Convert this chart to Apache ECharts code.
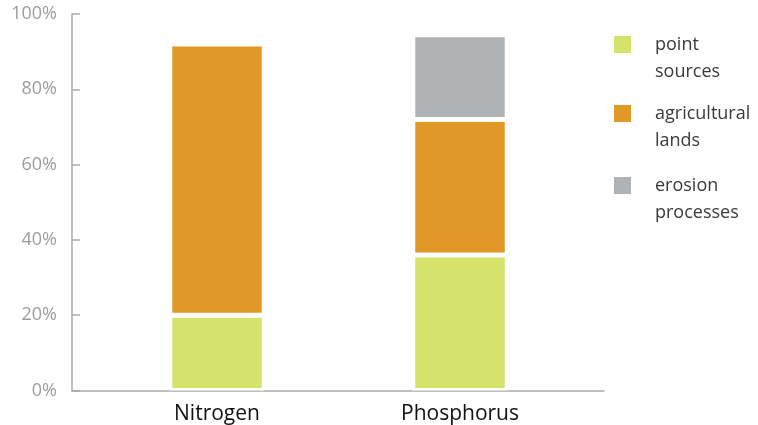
<!DOCTYPE html>
<html>
<head>
<meta charset="utf-8">
<script src="https://cdn.jsdelivr.net/npm/echarts@6/dist/echarts.min.js"></script>
<style>
  html, body { margin: 0; padding: 0; background: #fff; }
  #chart { width: 758px; height: 425px; }
</style>
</head>
<body>
<div id="chart"></div>
<script>
// Nutrient load shares by source, in percent
const categories = ['Nitrogen', 'Phosphorus'];
const pointSources = [20, 36];
const agriculturalLands = [72, 36];
const erosionProcesses = [null, 22.5];
const seriesNames = ['point\nsources', 'agricultural\nlands', 'erosion\nprocesses'];
const yTicks = [0, 20, 40, 60, 80, 100];

const colors = ['#d5e26b', '#e29826', '#b0b3b5'];
const axisGray = '#ababab';
const fontFamily = '"Open Sans", "Noto Sans", sans-serif';

const chart = echarts.init(document.getElementById('chart'), null, { renderer: 'canvas' });

// One legend per series so each swatch lines up with the first line of its label
function legendAt(name, top) {
  return {
    data: [name],
    left: 612,
    top: top,
    padding: 0,
    itemWidth: 19,
    itemHeight: 19,
    icon: 'rect',
    selectedMode: false,
    // leading empty line puts the first text line level with the swatch
    formatter: (n) => ' \n' + n,
    textStyle: {
      fontFamily: fontFamily,
      fontSize: 18,
      lineHeight: 27,
      color: '#3a3a3a',
      padding: [0, 0, 0, 18]
    }
  };
}

const barStyle = (i) => ({
  color: colors[i],
  borderColor: '#ffffff',
  borderWidth: 2.5
});

chart.setOption({
  animation: false,
  backgroundColor: '#ffffff',
  legend: [
    legendAt(seriesNames[0], 4),
    legendAt(seriesNames[1], 73),
    legendAt(seriesNames[2], 145)
  ],
  grid: [
    // frame with the full-length axis lines
    { left: 72, right: 154, top: 14, bottom: 34.5 },
    // band area holding the bars
    { left: 95.5, right: 176.5, top: 14, bottom: 34.5 }
  ],
  xAxis: [
    {
      gridIndex: 0, type: 'value', min: 0, max: 1,
      axisLine: { show: true, lineStyle: { color: axisGray, width: 1.5 } },
      axisTick: { show: false }, axisLabel: { show: false }, splitLine: { show: false }
    },
    {
      gridIndex: 1, type: 'category', data: categories,
      axisLine: { show: false }, axisTick: { show: false },
      axisLabel: { fontFamily: fontFamily, fontSize: 21, color: '#111111', margin: 13 }
    }
  ],
  yAxis: [
    {
      gridIndex: 0, type: 'value', min: yTicks[0], max: yTicks[yTicks.length - 1], interval: 20,
      axisLine: { show: true, lineStyle: { color: axisGray, width: 1.5 } },
      axisTick: { show: true, inside: true, length: 8, lineStyle: { color: axisGray, width: 1.5 } },
      axisLabel: { fontFamily: fontFamily, fontSize: 18, color: '#9d9d9d', margin: 15, formatter: '{value}%' },
      splitLine: { show: false }
    },
    {
      gridIndex: 1, type: 'value', min: 0, max: 100, show: false
    }
  ],
  series: [
    { name: seriesNames[0], type: 'bar', stack: 'load', xAxisIndex: 1, yAxisIndex: 1,
      barWidth: 94.5, data: pointSources, itemStyle: barStyle(0) },
    { name: seriesNames[1], type: 'bar', stack: 'load', xAxisIndex: 1, yAxisIndex: 1,
      barWidth: 94.5, data: agriculturalLands, itemStyle: barStyle(1) },
    { name: seriesNames[2], type: 'bar', stack: 'load', xAxisIndex: 1, yAxisIndex: 1,
      barWidth: 94.5, data: erosionProcesses, itemStyle: barStyle(2) }
  ]
});
</script>
</body>
</html>
